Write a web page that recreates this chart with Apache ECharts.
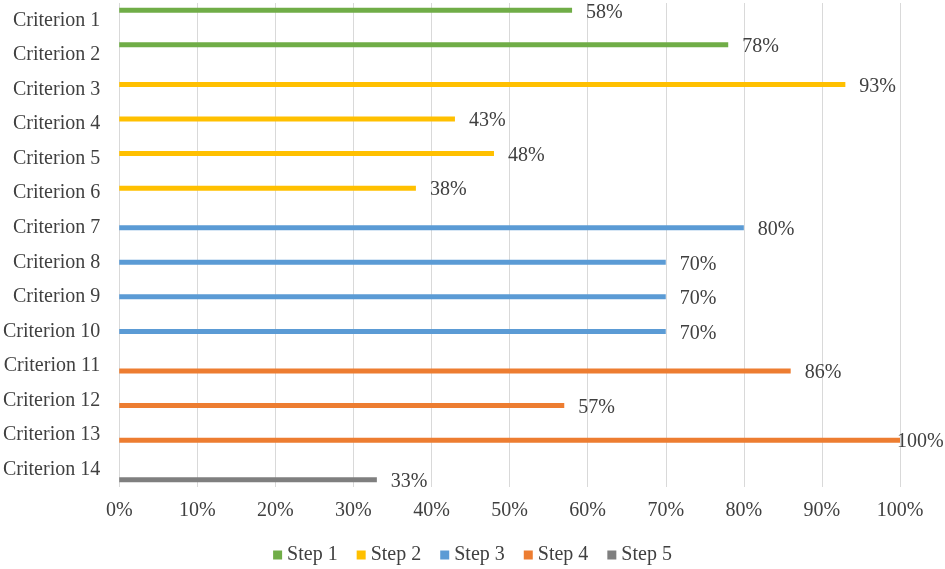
<!DOCTYPE html>
<html>
<head>
<meta charset="utf-8">
<script src="https://cdn.jsdelivr.net/npm/echarts@6/dist/echarts.min.js"></script>
<style>html,body{margin:0;padding:0;background:#fff;}#c{width:945px;height:569px;}</style>
</head>
<body>
<div id="c"></div>
<script>
var categories = ['Criterion 1','Criterion 2','Criterion 3','Criterion 4','Criterion 5','Criterion 6','Criterion 7','Criterion 8','Criterion 9','Criterion 10','Criterion 11','Criterion 12','Criterion 13','Criterion 14'];
var seriesNames = ['Step 1','Step 2','Step 3','Step 4','Step 5'];
var step1 = [58, 78, null, null, null, null, null, null, null, null, null, null, null, null];
var step2 = [null, null, 93, 43, 48, 38, null, null, null, null, null, null, null, null];
var step3 = [null, null, null, null, null, null, 80, 70, 70, 70, null, null, null, null];
var step4 = [null, null, null, null, null, null, null, null, null, null, 86, 57, 100, null];
var step5 = [null, null, null, null, null, null, null, null, null, null, null, null, null, 33];
var xTicks = [0,10,20,30,40,50,60,70,80,90,100];
var colors = ['#70AD47','#FFC000','#5B9BD5','#ED7D31','#7F7F7F'];
var allData = [step1, step2, step3, step4, step5];
var font = 'Liberation Serif, Times New Roman, serif';

var series = allData.map(function(d, i){
  return {
    name: seriesNames[i],
    type: 'bar',
    data: d.map(function(v){
      if (v === null) return null;
      var item = {value: v};
      if (v >= 100) item.label = {offset: [-17, 2]};
      return item;
    }),
    barWidth: 5,
    barGap: '0%',
    itemStyle: {color: colors[i]},
    label: {
      show: true,
      position: 'right',
      distance: 14,
      offset: [0, 2],
      formatter: function(p){ return p.value + '%'; },
      fontFamily: font,
      fontSize: 20,
      color: '#404040'
    }
  };
});

var chart = echarts.init(document.getElementById('c'));
chart.setOption({
  animation: false,
  color: colors,
  grid: {left: 117, right: 45, top: 3, bottom: 82, containLabel: false},
  legend: {
    data: seriesNames,
    left: 'center',
    top: 540,
    icon: 'rect',
    itemWidth: 9,
    itemHeight: 9,
    itemGap: 19,
    textStyle: {fontFamily: font, fontSize: 20, color: '#404040'}
  },
  xAxis: {
    type: 'value',
    min: xTicks[0],
    max: xTicks[xTicks.length - 1],
    interval: 10,
    axisLine: {show: false},
    axisTick: {show: false},
    splitLine: {show: true, lineStyle: {color: '#d9d9d9', width: 1}},
    axisLabel: {
      formatter: '{value}%',
      fontFamily: font,
      fontSize: 20,
      color: '#404040',
      margin: 14
    }
  },
  yAxis: {
    type: 'category',
    data: categories,
    inverse: true,
    axisLine: {show: false},
    axisTick: {show: false},
    axisLabel: {
      fontFamily: font,
      fontSize: 20,
      color: '#404040',
      margin: 19
    }
  },
  series: series
});
</script>
</body>
</html>
